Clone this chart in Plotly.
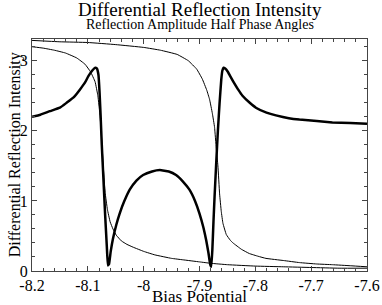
import plotly.graph_objects as go

# ---- data ----
xA = [-8.2, -8.18, -8.16, -8.14, -8.12, -8.105, -8.095, -8.087, -8.082, -8.078, -8.075,
      -8.072, -8.069, -8.065, -8.06, -8.055, -8.049, -8.04, -8.03, -8.019, -8.0, -7.98,
      -7.95, -7.93, -7.9, -7.88, -7.85, -7.8, -7.75, -7.7, -7.65, -7.6]
yA = [3.20, 3.18, 3.15, 3.11, 3.04, 2.95, 2.84, 2.70, 2.50, 2.20, 1.85,
      1.45, 1.12, 0.88, 0.70, 0.60, 0.51, 0.43, 0.38, 0.34, 0.28, 0.23,
      0.18, 0.16, 0.13, 0.11, 0.09, 0.07, 0.06, 0.05, 0.04, 0.04]

xB = [-8.2, -8.15, -8.1, -8.05, -8.0, -7.97, -7.94, -7.92, -7.905, -7.895, -7.887,
      -7.882, -7.877, -7.873, -7.870, -7.867, -7.864, -7.861, -7.858, -7.852, -7.845,
      -7.84, -7.825, -7.811, -7.795, -7.781, -7.75, -7.721, -7.69, -7.662, -7.63, -7.6]
yB = [3.29, 3.27, 3.26, 3.23, 3.19, 3.15, 3.09, 3.00, 2.88, 2.74, 2.58,
      2.45, 2.25, 2.05, 1.75, 1.50, 1.10, 0.85, 0.68, 0.52, 0.44,
      0.40, 0.31, 0.25, 0.21, 0.18, 0.15, 0.12, 0.10, 0.09, 0.075, 0.06]

xC = [-8.2, -8.185, -8.168, -8.15, -8.138, -8.125, -8.114, -8.105, -8.099, -8.092,
      -8.087, -8.084, -8.081, -8.079, -8.077, -8.075, -8.072, -8.069, -8.066, -8.064,
      -8.062, -8.059, -8.055, -8.049, -8.043, -8.035, -8.025, -8.013, -8.001, -7.985,
      -7.971, -7.955, -7.942, -7.93, -7.918, -7.908, -7.9, -7.893, -7.888, -7.884,
      -7.881, -7.879, -7.877, -7.875, -7.873, -7.870, -7.867, -7.864, -7.861, -7.859,
      -7.857, -7.854, -7.849, -7.845, -7.840, -7.83, -7.823, -7.81, -7.799, -7.78,
      -7.763, -7.74, -7.721, -7.69, -7.662, -7.63, -7.6]
yC = [2.20, 2.23, 2.28, 2.33, 2.40, 2.48, 2.59, 2.69, 2.78, 2.86,
      2.90, 2.89, 2.80, 2.55, 2.20, 1.80, 1.30, 0.80, 0.35, 0.08,
      0.10, 0.28, 0.46, 0.66, 0.82, 0.99, 1.16, 1.29, 1.37, 1.42,
      1.44, 1.42, 1.37, 1.28, 1.16, 1.00, 0.82, 0.62, 0.44, 0.26,
      0.10, 0.06, 0.30, 0.70, 1.06, 1.55, 2.01, 2.40, 2.73, 2.86,
      2.90, 2.89, 2.84, 2.78, 2.71, 2.58, 2.50, 2.40, 2.33, 2.26,
      2.22, 2.18, 2.16, 2.14, 2.12, 2.11, 2.10]

x_ticks = [-8.2, -8.1, -8.0, -7.9, -7.8, -7.7, -7.6]
x_ticktext = ["-8.2", "-8.1", "-8", "-7.9", "-7.8", "-7.7", "-7.6"]
y_ticks = [0, 1, 2, 3]
y_ticktext = ["0", "1", "2", "3"]

FONT = "Liberation Serif"

fig = go.Figure()
fig.add_trace(go.Scatter(x=xA, y=yA, mode="lines", showlegend=False,
                         line=dict(color="black", width=1, shape="spline", smoothing=0.3)))
fig.add_trace(go.Scatter(x=xB, y=yB, mode="lines", showlegend=False,
                         line=dict(color="black", width=1, shape="spline", smoothing=0.3)))
fig.add_trace(go.Scatter(x=xC, y=yC, mode="lines", showlegend=False,
                         line=dict(color="black", width=2.5, shape="spline", smoothing=0.3)))

axis_common = dict(
    showline=True, linecolor="#444", linewidth=1, mirror="ticks",
    ticks="inside", ticklen=5, tickcolor="#444", showgrid=False, zeroline=False,
    tickfont=dict(family=FONT, size=16, color="black"),
)
fig.update_xaxes(range=[-8.2, -7.6], tickmode="array", tickvals=x_ticks, ticktext=x_ticktext,
                 minor=dict(tick0=-8.2, dtick=0.02, ticks="inside", ticklen=3, tickcolor="#444"),
                 **axis_common)
fig.update_yaxes(range=[0, 3.31], tickmode="array", tickvals=y_ticks, ticktext=y_ticktext,
                 minor=dict(tick0=0, dtick=0.2, ticks="inside", ticklen=3, tickcolor="#444"),
                 **axis_common)

fig.update_layout(
    width=382, height=305,
    margin=dict(l=32, r=15, t=39, b=34, autoexpand=False),
    paper_bgcolor="white", plot_bgcolor="white",
    font=dict(family=FONT, color="black"),
    annotations=[
        dict(text="Differential Reflection Intensity", xref="paper", yref="paper",
             x=0.5, y=1.127, xanchor="center", yanchor="middle", showarrow=False,
             font=dict(family=FONT, size=19, color="black")),
        dict(text="Reflection Amplitude Half Phase Angles", xref="paper", yref="paper",
             x=0.5, y=1.062, xanchor="center", yanchor="middle", showarrow=False,
             font=dict(family=FONT, size=14, color="black")),
        dict(text="Bias Potential", xref="paper", yref="paper",
             x=0.5, y=-0.112, xanchor="center", yanchor="middle", showarrow=False,
             font=dict(family=FONT, size=17, color="black")),
        dict(text="Differential Reflection Intensity", xref="paper", yref="paper",
             x=-0.05, y=0.5, xanchor="center", yanchor="middle", showarrow=False, textangle=-90,
             font=dict(family=FONT, size=16, color="black")),
    ],
)

fig.write_html("out.html", config={"displayModeBar": False},
               post_script="document.body.style.margin='0';")
